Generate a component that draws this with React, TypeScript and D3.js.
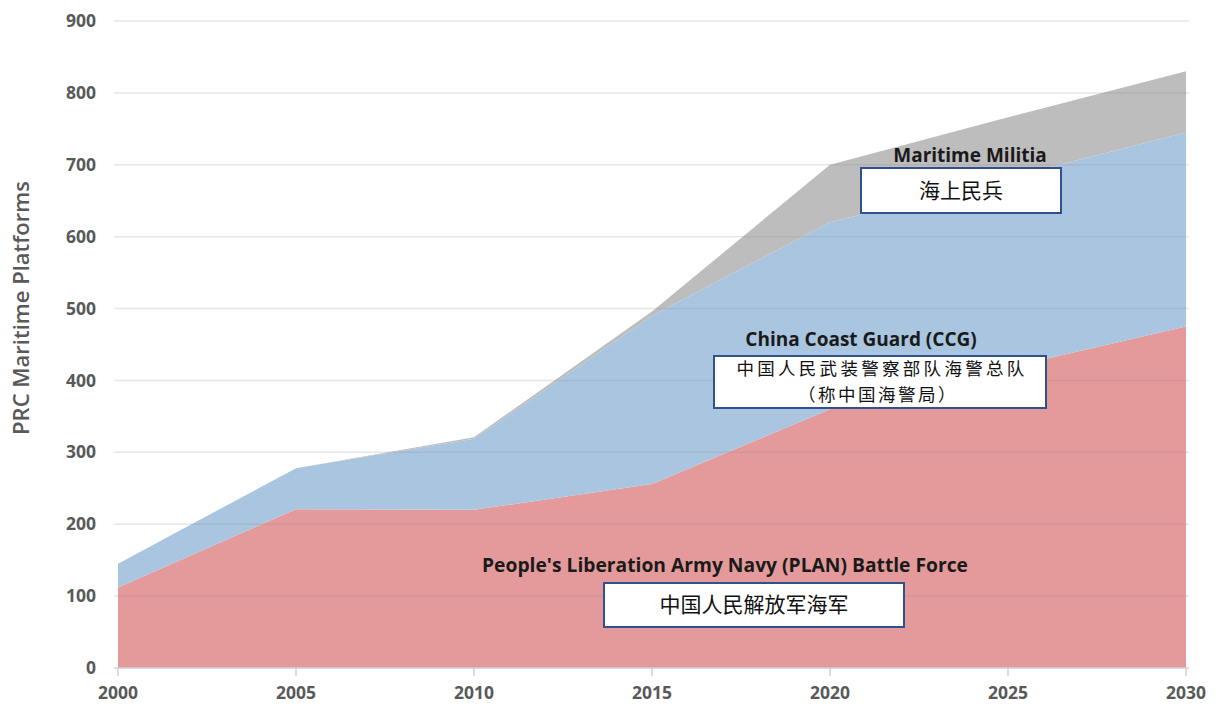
import React from "react";
import * as d3 from "d3";

const years = [2000, 2005, 2010, 2015, 2020, 2025, 2030];
const plan = [112, 221, 220, 256, 360, 418, 475];
const ccg = [33, 57, 99, 234, 260, 264, 270];
const militia = [0, 0, 2, 6, 80, 84, 85];
const yTicks = [0, 100, 200, 300, 400, 500, 600, 700, 800, 900];

const seriesKeys = ["plan", "ccg", "militia"];
const colors = { plan: "#e49a9a", ccg: "#a9c5e0", militia: "#bdbdbd" };

const W = 1220;
const H = 708;

export default function App() {
  const x = d3.scaleLinear().domain([2000, 2030]).range([118, 1186]);
  const y = d3.scaleLinear().domain([0, 900]).range([668, 21]);

  const rows = years.map((yr, i) => ({ year: yr, plan: plan[i], ccg: ccg[i], militia: militia[i] }));
  const stacked = d3.stack().keys(seriesKeys)(rows as any);

  const area = d3
    .area<any>()
    .x((d) => x(d.data.year))
    .y0((d) => y(d[0]))
    .y1((d) => y(d[1]));

  const labelFont = "'Open Sans', 'DejaVu Sans', sans-serif";
  const cjkFont = "'Noto Sans CJK SC', sans-serif";
  const axisColor = "#595959";

  return (
    <div style={{ position: "absolute", left: 0, top: 0 }}>
      <svg width={W} height={H} style={{ display: "block", background: "#fff" }}>
        {/* stacked areas */}
        {stacked.map((s) => (
          <path key={s.key} d={area(s as any) || ""} fill={(colors as any)[s.key]} />
        ))}

        {/* gridlines over the areas, faint */}
        {yTicks.map((t) => (
          <line
            key={t}
            x1={114}
            x2={1189}
            y1={y(t)}
            y2={y(t)}
            stroke={t === 0 ? "#d0d0d0" : "#8c8c8c"}
            strokeOpacity={t === 0 ? 1 : 0.22}
            strokeWidth={1.5}
          />
        ))}

        {/* x ticks */}
        {years.map((yr) => (
          <line key={"t" + yr} x1={x(yr)} x2={x(yr)} y1={y(0)} y2={y(0) + 8} stroke="#d0d0d0" strokeWidth={1.5} />
        ))}

        {/* y tick labels */}
        {yTicks.map((t) => (
          <text
            key={"yl" + t}
            x={96}
            y={y(t)}
            dy="0.35em"
            textAnchor="end"
            fontFamily={labelFont}
            fontWeight={700}
            fontSize={17.5}
            fill={axisColor}
          >
            {t}
          </text>
        ))}

        {/* x tick labels */}
        {years.map((yr) => (
          <text
            key={"xl" + yr}
            x={x(yr)}
            y={699}
            textAnchor="middle"
            fontFamily={labelFont}
            fontWeight={700}
            fontSize={17.5}
            fill={axisColor}
          >
            {yr}
          </text>
        ))}

        {/* y axis title */}
        <text
          transform="translate(29,308) rotate(-90)"
          textAnchor="middle"
          fontFamily={labelFont}
          fontWeight={600}
          fontSize={22}
          fill={axisColor}
        >
          PRC Maritime Platforms
        </text>

        {/* series labels */}
        <text x={970} y={162} textAnchor="middle" fontFamily={labelFont} fontWeight={700} fontSize={19} fill="#1a1a1a">
          Maritime Militia
        </text>
        <rect x={861} y={168} width={200} height={45} fill="#fff" stroke="#2f528f" strokeWidth={2} />
        <text x={961} y={191} dy="0.35em" textAnchor="middle" fontFamily={cjkFont} fontSize={21} fill="#111">
          海上民兵
        </text>

        <text x={861} y={346} textAnchor="middle" fontFamily={labelFont} fontWeight={700} fontSize={19} fill="#1a1a1a">
          China Coast Guard (CCG)
        </text>
        <rect x={714} y={356} width={332} height={52} fill="#fff" stroke="#2f528f" strokeWidth={2} />
        <text
          x={882}
          y={369}
          dy="0.35em"
          textAnchor="middle"
          fontFamily={cjkFont}
          fontSize={17.5}
          letterSpacing={3.3}
          fill="#111"
        >
          中国人民武装警察部队海警总队
        </text>
        <text
          x={878}
          y={395}
          dy="0.35em"
          textAnchor="middle"
          fontFamily={cjkFont}
          fontSize={17.5}
          letterSpacing={2.5}
          fill="#111"
        >
          （称中国海警局）
        </text>

        <text
          x={725}
          y={572}
          textAnchor="middle"
          fontFamily={labelFont}
          fontWeight={700}
          fontSize={19}
          textLength={486}
          lengthAdjust="spacingAndGlyphs"
          fill="#1a1a1a"
        >
          People's Liberation Army Navy (PLAN) Battle Force
        </text>
        <rect x={604} y={583} width={300} height={44} fill="#fff" stroke="#2f528f" strokeWidth={2} />
        <text x={754} y={605} dy="0.35em" textAnchor="middle" fontFamily={cjkFont} fontSize={21} fill="#111">
          中国人民解放军海军
        </text>
      </svg>
    </div>
  );
}
